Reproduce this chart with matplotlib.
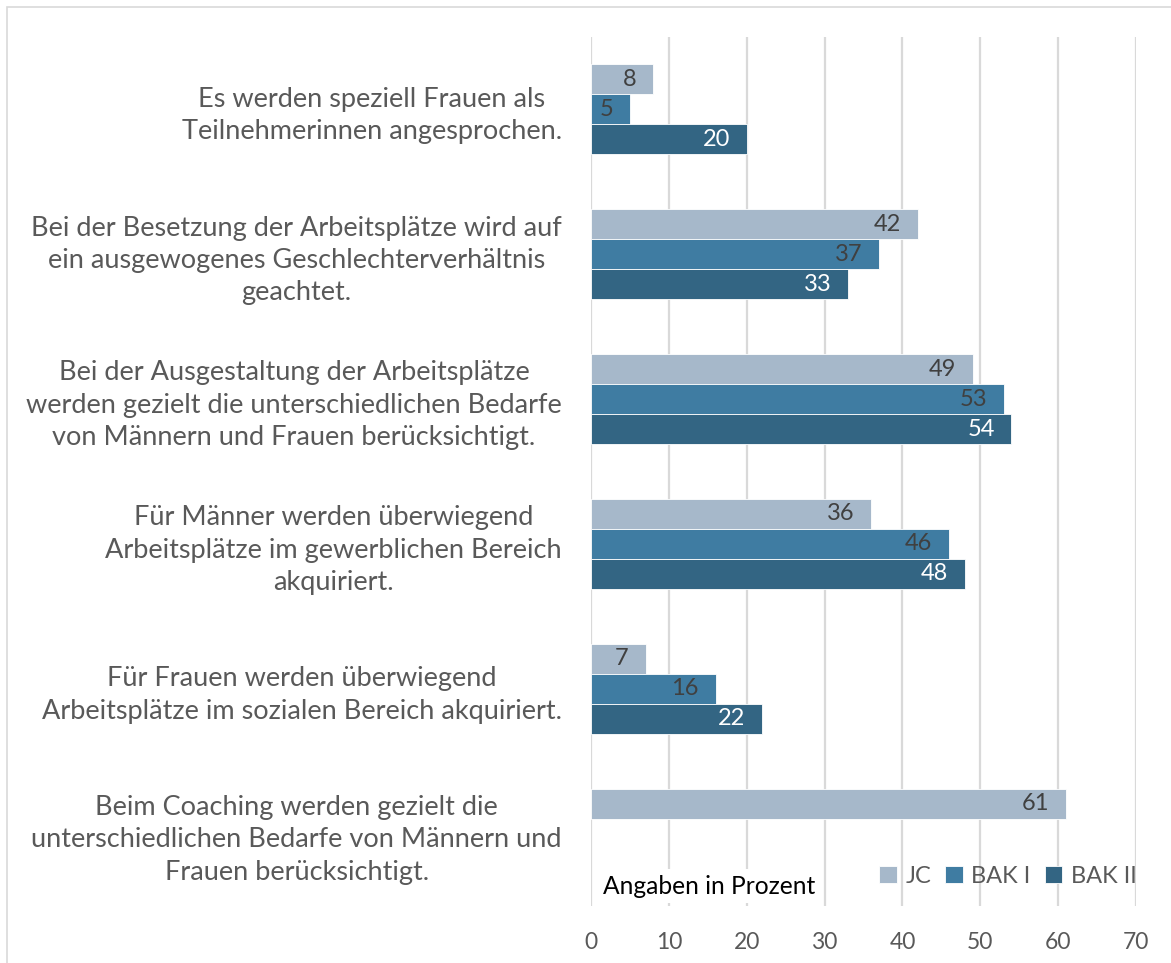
import matplotlib
matplotlib.use("Agg")
import matplotlib.pyplot as plt
import matplotlib.patches as mpatches
import numpy as np

plt.rcParams["font.family"] = ["Lato", "DejaVu Sans"]

CATEGORIES = [
    "Es werden speziell Frauen als\nTeilnehmerinnen angesprochen.",
    "Bei der Besetzung der Arbeitsplätze wird auf\nein ausgewogenes Geschlechterverhältnis\ngeachtet.",
    "Bei der Ausgestaltung der Arbeitsplätze\nwerden gezielt die unterschiedlichen Bedarfe\nvon Männern und Frauen berücksichtigt.",
    "Für Männer werden überwiegend\nArbeitsplätze im gewerblichen Bereich\nakquiriert.",
    "Für Frauen werden überwiegend\nArbeitsplätze im sozialen Bereich akquiriert.",
    "Beim Coaching werden gezielt die\nunterschiedlichen Bedarfe von Männern und\nFrauen berücksichtigt.",
]
JC = [8, 42, 49, 36, 7, 61]
BAK_I = [5, 37, 53, 46, 16, np.nan]
BAK_II = [20, 33, 54, 48, 22, np.nan]

SERIES = ["JC", "BAK I", "BAK II"]
COLORS = ["#A6B8CA", "#3F7CA2", "#336583"]
LABEL_COLORS = ["#404040", "#404040", "#FFFFFF"]
XTICKS = [0, 10, 20, 30, 40, 50, 60, 70]

TEXT_GRAY = "#595959"
GRID = "#D9D9D9"

fig = plt.figure(figsize=(11.71, 9.63), dpi=100)
fig.patch.set_facecolor("white")
ax = fig.add_axes([591 / 1171, 1 - 906 / 963, (1136 - 591) / 1171, (906 - 37) / 963])

y = np.arange(len(CATEGORIES))
h = 0.207
for k, (vals, col, lcol) in enumerate(zip([JC, BAK_I, BAK_II], COLORS, LABEL_COLORS)):
    pos = y + (k - 1) * h
    bars = ax.barh(pos, vals, height=h, color=col, edgecolor="white", linewidth=0.6,
                   label=SERIES[k], zorder=3)
    for bar, v in zip(bars, vals):
        if np.isnan(v):
            continue
        ax.annotate(f"{v:.0f}", xy=(v, bar.get_y() + bar.get_height() / 2),
                    xytext=(-12, 0), textcoords="offset points",
                    ha="right", va="center", fontsize=17, color=lcol, zorder=4)

ax.set_xlim(0, 70)
ax.set_ylim(len(CATEGORIES) - 0.5, -0.5)
ax.set_xticks(XTICKS)
ax.set_xticklabels([str(t) for t in XTICKS], fontsize=16.5, color=TEXT_GRAY)
ax.set_yticks(y)
ax.set_yticklabels(CATEGORIES, fontsize=19.5, color=TEXT_GRAY, multialignment="center",
                   linespacing=1.37)
ax.tick_params(axis="y", length=0, pad=21)
ax.tick_params(axis="x", length=0, pad=19)
ax.grid(axis="x", color=GRID, linewidth=1.6, zorder=0)
ax.set_axisbelow(True)
for s in ax.spines.values():
    s.set_visible(False)

leg = ax.legend(loc="center right", bbox_to_anchor=(1.018, (906 - 876) / 869),
                ncol=3, frameon=False, fontsize=17, handlelength=0.75, handleheight=0.75,
                handletextpad=0.35, columnspacing=0.6, borderaxespad=0)
for t in leg.get_texts():
    t.set_color(TEXT_GRAY)

fig.text(603 / 1171, 1 - 886 / 963, "Angaben in Prozent", fontsize=17.7, color="black",
         ha="left", va="center",
         bbox=dict(facecolor="white", edgecolor="none", pad=4))

fig.patches.append(mpatches.Rectangle((7 / 1171, -0.1), 1.2, 1 - 7 / 963 + 0.1,
                                      transform=fig.transFigure, fill=False,
                                      edgecolor="#D9D9D9", linewidth=1.2))

fig.savefig("out.png", dpi=100)
